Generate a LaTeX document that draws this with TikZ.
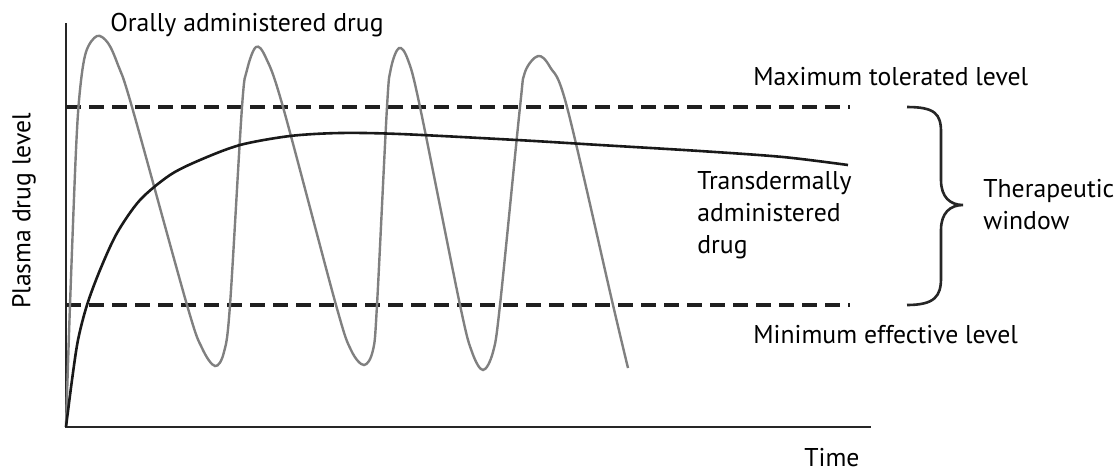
\documentclass[tikz,border=0pt]{standalone}
\usepackage{fontspec}
\setmainfont{PT Sans}
\begin{document}
\begin{tikzpicture}[x=0.5pt,y=-0.5pt,
  lbl/.style={inner sep=0pt,font=\fontsize{12.85}{16}\selectfont,text=black},
  axisline/.style={line width=0.8pt,draw=black!85},
  levelline/.style={line width=1.6pt,draw=black!88,dash pattern=on 7.5pt off 4pt},
  oral/.style={line width=1.2pt,draw=black!50},
  transd/.style={line width=1.3pt,draw=black!90},
  bracestyle/.style={line width=1.3pt,draw=black!85}]
\useasboundingbox (0,0) rectangle (1118,473);
% axes
\coordinate (O) at (66,427);
\coordinate (ytop) at (66,23);
\coordinate (xend) at (871,427);
\draw[axisline] (ytop) -- (O) -- (xend);
% level lines
\coordinate (maxL) at (66,107);
\coordinate (maxR) at (850,107);
\coordinate (minL) at (66,305);
\coordinate (minR) at (850,305);
\draw[levelline] (maxL) -- (maxR);
\draw[levelline] (minL) -- (minR);
% oral curve
\draw[oral] plot[smooth,tension=0.55] coordinates {
 (66,427) (70,305) (76,150) (80,90) (86,52) (97,36) (108,43) (118,65) (132,107)
 (187,305) (202,348) (215,366) (224,352) (230,305)
 (242,107) (247,70) (256,47) (266,58) (283,107)
 (336,305) (351,350) (364,365) (373,350) (377,305)
 (387,107) (391,68) (399,48) (408,60) (420,107)
 (460,305) (472,352) (483,370) (493,352) (500,305)
 (520,107) (525,72) (538,56) (550,67) (567,107)
 (613,305) (628,368)};
% transdermal curve
\draw[transd] plot[smooth,tension=0.5] coordinates {
 (66,427) (72,380) (78,340) (87,305) (100,270) (117,233) (140,200) (170,175)
 (200,160) (240,145) (290,136) (340,133) (400,134) (517,140) (600,145)
 (700,151) (783,157) (848,165)};
% brace
\coordinate (bt) at (907,107);
\coordinate (bb) at (907,305);
\coordinate (btip) at (963,205);
\draw[bracestyle] (bt) .. controls (935,107) and (941,114) .. (941,132)
  -- (941,180) .. controls (941,197) and (950,205) .. (btip)
  .. controls (950,205) and (941,213) .. (941,230)
  -- (941,278) .. controls (941,296) and (935,305) .. (bb);
% labels
\node[lbl,anchor=west] (orally) at (110,25) {Orally administered drug};
\node[lbl,anchor=west] (maxlbl) at (753,77) {Maximum tolerated level};
\node[lbl,anchor=west] (minlbl) at (753,335) {Minimum effective level};
\node[lbl,anchor=west,align=left] (trans) at (697,215) {Transdermally\\administered\\drug};
\node[lbl,anchor=west,align=left] (thera) at (983,205) {Therapeutic\\window};
\node[lbl,anchor=west] (time) at (804,458) {Time};
\node[lbl,rotate=90] (plasma) at (24,211) {Plasma drug level};
\end{tikzpicture}
\end{document}
